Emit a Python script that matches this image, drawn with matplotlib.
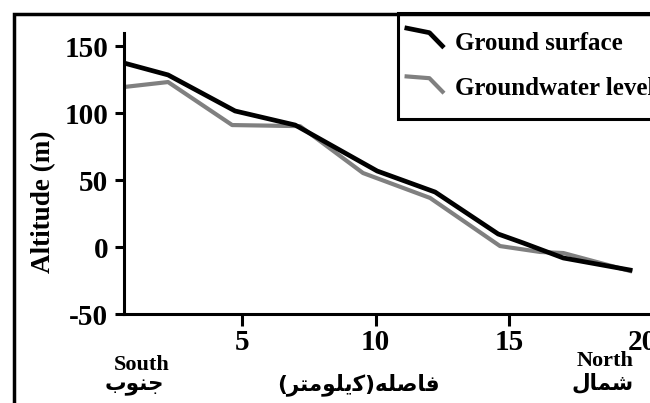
# Altitude profile: ground surface vs groundwater level, south to north

import matplotlib
matplotlib.use('Agg')
import matplotlib.pyplot as plt
from matplotlib.lines import Line2D
from matplotlib.patches import Rectangle
from matplotlib.legend_handler import HandlerLine2D

# distance along the profile (km) and altitudes (m)
ground_km = [0.58, 2.23, 4.74, 6.99, 10.06, 12.23, 14.59, 15.53, 17.03, 19.53]
ground_alt = [137.6, 128.7, 101.8, 91.3, 57.0, 41.3, 10.0, 3.3, -7.9, -16.9]
water_km = [0.58, 2.23, 4.63, 7.17, 9.53, 12.04, 14.66, 16.16, 17.03, 19.53]
water_alt = [119.7, 123.4, 91.3, 90.5, 55.5, 36.9, 1.0, -3.4, -4.2, -17.6]

xticks = [5, 10, 15, 20]
yticks = [-50, 0, 50, 100, 150]
labels = ['Ground surface', 'Groundwater level']

# Persian words written in presentation forms, visual (left to right) order
south_fa = '\uFE8F\uFEEE\uFEE8\uFE9F'              # جنوب
north_fa = '\uFEDD\uFE8E\uFEE4\uFEB7'              # شمال
dist_fa = ('(' + '\uFEAE\uFE98\uFEE3\uFEEE\uFEE0\uFBFE\uFB90' + ')'
           + '\uFEEA\uFEE0\uFEBB\uFE8E\uFED3')     # فاصله(کیلومتر)

W, H = 650, 403
plt.rcParams['axes.unicode_minus'] = False
serif = {'family': 'Liberation Serif', 'weight': 'bold'}
fa_font = {'family': ['DejaVu Sans'], 'weight': 'bold'}


class BentHandler(HandlerLine2D):
    """little bent stroke like the hand drawn legend keys"""
    def __init__(self, dys, shift=8.6, **kw):
        super().__init__(**kw)
        self.dys = dys
        self.shift = shift

    def create_artists(self, legend, orig_handle, xdescent, ydescent,
                       width, height, fontsize, trans):
        x0 = -xdescent - self.shift
        x1 = -xdescent + width
        xs = [x0, x0 + 0.63 * (x1 - x0), x1]
        yc = height / 2 - ydescent
        ys = [yc + d for d in self.dys]
        ln = Line2D(xs, ys, color=orig_handle.get_color(),
                    lw=orig_handle.get_linewidth(), solid_capstyle='butt')
        ln.set_transform(trans)
        return [ln]


fig = plt.figure(figsize=(W / 100, H / 100), dpi=100)
ax = fig.add_axes([124 / W, 1 - 314.4 / H, 532 / W, 281.4 / H])

l1, = ax.plot(ground_km, ground_alt, color='black', lw=3.4,
              solid_joinstyle='round', zorder=3)
l2, = ax.plot(water_km, water_alt, color='#808080', lw=3.0,
              solid_joinstyle='round', zorder=2)

ax.set_xlim(0.58, 20.5)
ax.set_ylim(-50, 160)
ax.set_xticks(xticks)
ax.set_yticks(yticks)
for s in ['top', 'right']:
    ax.spines[s].set_visible(False)
for s in ['left', 'bottom']:
    ax.spines[s].set_linewidth(2.2)
ax.tick_params(axis='x', length=8.5, width=2.2, pad=2)
ax.tick_params(axis='y', length=6.5, width=2.2, pad=5)
ax.xaxis.get_major_ticks()[-1].tick1line.set_visible(False)
for t in ax.get_xticklabels() + ax.get_yticklabels():
    t.set_fontfamily('Liberation Serif')
    t.set_fontweight('bold')
    t.set_fontsize(21)

fig.text(44 / W, 1 - 202 / H, 'Altitude (m)', rotation=90, ha='center',
         va='center', fontsize=19.5, **serif)

leg = ax.legend([l1, l2], labels, loc='upper left',
                bbox_to_anchor=(398 / W, 1 - 13 / H),
                bbox_transform=fig.transFigure, borderaxespad=0,
                fancybox=False, edgecolor='black', framealpha=1,
                borderpad=0.74, labelspacing=0.9, handlelength=1.1,
                handletextpad=0.45,
                prop={'family': 'Liberation Serif', 'weight': 'bold',
                      'size': 18},
                handler_map={l1: BentHandler([9.4, 5.8, -5.0]),
                             l2: BentHandler([7.2, 5.8, -5.0])})
leg.get_frame().set_linewidth(2.2)

# outer frame of the figure (cropped on right and bottom)
fig.patches.append(Rectangle((14 / W, -0.3), 1.2, 1.3 - 14 / H,
                             transform=fig.transFigure, fill=False,
                             lw=2.5, edgecolor='black'))

fig.text(142 / W, 1 - 365 / H, 'South', ha='center', va='center',
         fontsize=16, **serif)
fig.text(134 / W, 1 - 386 / H, south_fa, ha='center', va='center',
         fontsize=15.5, **fa_font)
fig.text(605 / W, 1 - 361 / H, 'North', ha='center', va='center',
         fontsize=16, **serif)
fig.text(603 / W, 1 - 383 / H, north_fa, ha='center', va='center',
         fontsize=15.5, **fa_font)
fig.text(358 / W, 1 - 385 / H, dist_fa, ha='center', va='center',
         fontsize=15.5, **fa_font)

fig.savefig('out.png', dpi=100)
